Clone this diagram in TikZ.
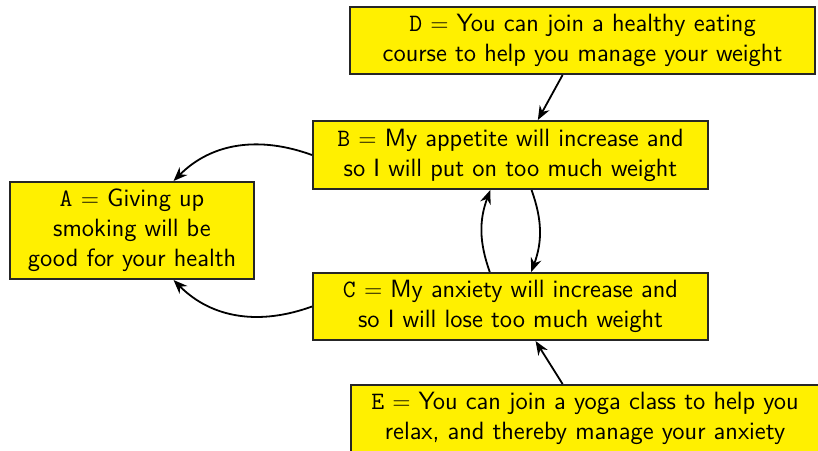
\documentclass[tikz,border=0pt]{standalone}
\usepackage{tikz}
\usetikzlibrary{arrows.meta}
\definecolor{boxyellow}{RGB}{255,240,0}

\tikzset{
  claim/.style={draw=black!85,fill=boxyellow,line width=1pt,align=center,
    font=\sffamily\fontsize{12.5}{15}\selectfont,inner sep=2pt},
  link/.style={->,line width=.9pt},
}

\begin{document}
\begin{tikzpicture}[x=.5pt,y=-.5pt,>={Stealth[length=7pt,width=5.5pt]}]
\useasboundingbox (0,0) rectangle (818,450);
% statements
\node[claim,minimum width=232.5pt,minimum height=33.5pt] (D) at (582.5,40.5)
  {\texttt{D} $=$ You can join a healthy eating\\course to help you manage your weight};
\node[claim,minimum width=197.5pt,minimum height=34pt] (B) at (510.5,155)
  {\texttt{B} $=$ My appetite will increase and\\so I will put on too much weight};
\node[claim,minimum width=122pt,minimum height=48.5pt] (A) at (132,230.5)
  {\texttt{A} $=$ Giving up\\smoking will be\\good for your health};
\node[claim,minimum width=197.5pt,minimum height=33.5pt] (C) at (510.5,306.5)
  {\texttt{C} $=$ My anxiety will increase and\\so I will lose too much weight};
\node[claim,minimum width=234pt,minimum height=33.5pt] (E) at (585,418.5)
  {\texttt{E} $=$ You can join a yoga class to help you\\relax, and thereby manage your anxiety};
% arrows
\draw[link] (D.-120) -- (B.52);
\draw[link] (E.123) -- (C.-54);
\draw[link] (B.west) to[out=160,in=45] (A.50);
\draw[link] (C.west) to[out=200,in=-45] (A.-50);
\draw[link] (C.121) to[bend left=20] (B.-120);
\draw[link] (B.-59) to[bend left=20] (C.59);
\end{tikzpicture}
\end{document}
